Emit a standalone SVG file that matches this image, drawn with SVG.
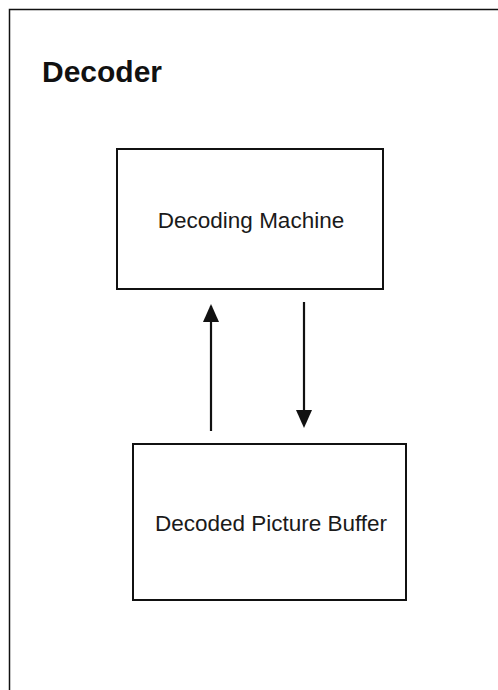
<svg xmlns="http://www.w3.org/2000/svg" width="498" height="690" viewBox="0 0 498 690">
<defs>
<style>
.frame{fill:#fff;stroke:#111;stroke-width:1.5}
.box{fill:#fff;stroke:#111;stroke-width:2}
.lbl{font-family:"Liberation Sans",Arial,sans-serif;font-size:22.5px;fill:#1a1a1a;text-anchor:middle}
.title{font-family:"Liberation Sans",Arial,sans-serif;font-size:30px;font-weight:bold;fill:#111}
.conn{stroke:#111;stroke-width:2.2;fill:none}
</style>
</defs>
<rect width="498" height="690" fill="#fff"/>
<g id="decoder">
<rect class="frame" x="9.5" y="9.5" width="500" height="690"/>
<text class="title" x="42" y="82">Decoder</text>
</g>
<g id="decoding-machine">
<rect class="box" x="117" y="149" width="266" height="140"/>
<text class="lbl" x="251" y="228">Decoding Machine</text>
</g>
<g id="decoded-picture-buffer">
<rect class="box" x="133" y="444" width="273" height="156"/>
<text class="lbl" x="271" y="531">Decoded Picture Buffer</text>
</g>
<g id="connectors">
<line class="conn" x1="211" y1="431" x2="211" y2="306"/>
<path d="M211,304 L203,322 L219,322 Z" fill="#111"/>
<line class="conn" x1="304" y1="302" x2="304" y2="424"/>
<path d="M304,428 L296,410 L312,410 Z" fill="#111"/>
</g>
</svg>
